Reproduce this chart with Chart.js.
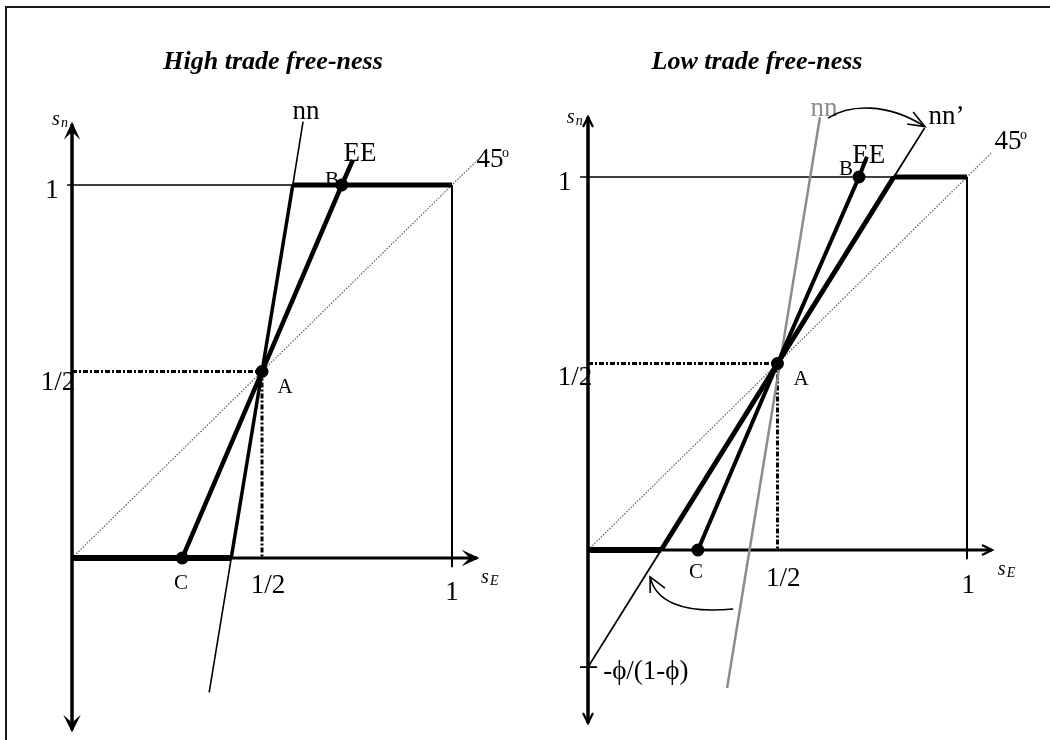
<!DOCTYPE html>
<html>
<head>
<meta charset="utf-8">
<script src="https://cdn.jsdelivr.net/npm/chart.js@4.4.1/dist/chart.umd.min.js"></script>
<style>
  html, body { margin: 0; padding: 0; background: #fff; }
  #page { position: relative; width: 1050px; height: 740px; overflow: hidden; }
  #frame { position: absolute; left: 5px; top: 6px; width: 1100px; height: 800px;
           border-top: 2px solid #1a1a1a; border-left: 2px solid #1a1a1a; }
  canvas { position: absolute; top: 0; }
  #high { left: 0; }
  #low { left: 525px; }
</style>
</head>
<body>
<div id="page">
  <div id="frame"></div>
  <canvas id="high" width="525" height="740"></canvas>
  <canvas id="low" width="525" height="740"></canvas>
</div>
<script>
// --- high trade free-ness ---
const nnHighX = [0.361, 0.419, 0.581, 0.608];
const nnHighY = [-0.36, 0, 1, 1.17];
const eeHighX = [0.29, 0.5, 0.71, 0.739];
const eeHighY = [0, 0.5, 1, 1.067];
const eqHighX = [0.5, 0.71, 0.29];   // A, B, C
const eqHighY = [0.5, 1, 0];

// --- low trade free-ness ---
const nnOldX = [0.367, 0.612];
const nnOldY = [-0.37, 1.16];
const nnNewX = [0, 0.193, 0.807, 0.888];
const nnNewY = [-0.314, 0, 1, 1.131];
const eeLowX = [0.29, 0.5, 0.715, 0.736];
const eeLowY = [0, 0.5, 1, 1.054];
const eqLowX = [0.5, 0.715, 0.29];
const eqLowY = [0.5, 1, 0];
const phiIntercept = -0.314;

const tickLabels = ['1/2', '1'];
const SERIF = '"Liberation Serif", "Times New Roman", serif';

function line(xs, ys, color, width, dash) {
  return {
    data: xs.map((x, i) => ({x: x, y: ys[i]})),
    showLine: true, pointRadius: 0, fill: false,
    borderColor: color, borderWidth: width, borderDash: dash || [],
    borderCapStyle: 'butt'
  };
}

function dots(xs, ys) {
  return {
    data: xs.map((x, i) => ({x: x, y: ys[i]})),
    showLine: false, pointRadius: 6.5, borderWidth: 0,
    pointBackgroundColor: '#000'
  };
}

// unit box, axes, 45 degree line and the dashed guides at A
function frameSets(axisTop, axisBottom, axisRight, tickLeft, diagEnd) {
  return [
    line([0, 0], [axisTop, axisBottom], '#000', 3.5),
    line([0, axisRight], [0, 0], '#000', 3),
    line([tickLeft, 1], [1, 1], '#000', 1.5),
    line([1, 1], [1, -0.025], '#000', 2),
    line([0, diagEnd], [0, diagEnd], '#6a6a6a', 1.3, [1.5, 1.5]),
    line([0, 0.5], [0.5, 0.5], '#000', 3, [5, 2, 2, 2]),
    line([0.5, 0.5], [0.5, 0], '#000', 3, [5, 2, 2, 2])
  ];
}

function arrowHead(ctx, tx, ty, dx, dy, filled, len, half) {
  const nx = -dy, ny = dx;
  const bx = tx - dx * len, by = ty - dy * len;
  ctx.beginPath();
  ctx.moveTo(bx + nx * half, by + ny * half);
  ctx.lineTo(tx, ty);
  ctx.lineTo(bx - nx * half, by - ny * half);
  if (filled) {
    ctx.lineTo(tx - dx * len * 0.55, ty - dy * len * 0.55);
    ctx.closePath();
    ctx.fill();
  }
  ctx.stroke();
}

const panelText = {
  id: 'panelText',
  beforeDatasetsDraw(chart, args, opts) {
    const {ctx, scales} = chart;
    const sx = scales.x, sy = scales.y;
    ctx.save();
    ctx.textBaseline = 'middle';
    for (const l of opts.items) {
      const px = sx.getPixelForValue(l.x), py = sy.getPixelForValue(l.y);
      ctx.font = l.font;
      ctx.fillStyle = l.color || '#000';
      ctx.textAlign = l.align || 'center';
      ctx.fillText(l.text, px + (l.ox || 0), py + (l.oy || 0));
    }
    ctx.restore();
  },
  afterDatasetsDraw(chart, args, opts) {
    const {ctx, scales} = chart;
    const sx = scales.x, sy = scales.y;
    const P = (p) => [sx.getPixelForValue(p[0]), sy.getPixelForValue(p[1])];
    ctx.save();
    ctx.strokeStyle = '#000';
    ctx.fillStyle = '#000';
    ctx.lineJoin = 'miter';
    for (const a of opts.arrows) {
      const [tx, ty] = P([a.x, a.y]);
      ctx.lineWidth = a.width;
      arrowHead(ctx, tx, ty, a.dx, a.dy, a.filled, a.len, a.half);
    }
    for (const c of (opts.curves || [])) {
      const p = c.pts.map(P);
      ctx.lineWidth = 1.6;
      ctx.beginPath();
      ctx.moveTo(p[0][0], p[0][1]);
      ctx.bezierCurveTo(p[1][0], p[1][1], p[2][0], p[2][1], p[3][0], p[3][1]);
      ctx.stroke();
      const w = c.wings.map(P);
      ctx.beginPath();
      ctx.moveTo(w[0][0], w[0][1]);
      ctx.lineTo(p[3][0], p[3][1]);
      ctx.lineTo(w[1][0], w[1][1]);
      ctx.stroke();
    }
    ctx.restore();
  }
};

function makeChart(id, datasets, xr, yr, items, arrows, curves) {
  return new Chart(document.getElementById(id), {
    type: 'scatter',
    data: {datasets: datasets},
    options: {
      responsive: false,
      animation: false,
      events: [],
      layout: {padding: 0, autoPadding: false},
      scales: {
        x: {type: 'linear', min: xr[0], max: xr[1], display: false},
        y: {type: 'linear', min: yr[0], max: yr[1], display: false}
      },
      plugins: {
        legend: {display: false},
        tooltip: {enabled: false},
        panelText: {items: items, arrows: arrows, curves: curves}
      }
    },
    plugins: [panelText]
  });
}

const big = '27px ' + SERIF;
const mid = '21px ' + SERIF;
const title = 'bold italic 26px ' + SERIF;
const ital = 'italic 20px ' + SERIF;
const italSmall = 'italic 14px ' + SERIF;
const degFont = '14px ' + SERIF;

// axis names s_E and s_n, placed as a letter plus an offset index
function axisName(x, y, idx) {
  return [
    {text: 's', x: x, y: y, font: ital, align: 'left', ox: -9},
    {text: idx, x: x, y: y, font: italSmall, align: 'left', ox: 0, oy: 3}
  ];
}

// left panel
makeChart('high',
  [
    dots(eqHighX, eqHighY),
    line(eeHighX, eeHighY, '#000', 4.5),
    line(nnHighX.slice(1, 3), nnHighY.slice(1, 3), '#000', 3.5),
    line([0, nnHighX[1]], [0, 0], '#000', 6),
    line([nnHighX[2], 1], [1, 1], '#000', 5),
    line(nnHighX, nnHighY, '#000', 1.6),
    ...frameSets(1.163, -0.461, 1.066, -0.013, 1.07)
  ],
  [-0.1895, 1.1921], [-0.4879, 1.496],
  [
    {text: 'High trade free-ness', x: 0.529, y: 1.330, font: title},
    {text: 'nn', x: 0.616, y: 1.196, font: big},
    {text: 'EE', x: 0.758, y: 1.083, font: big},
    {text: 'B', x: 0.684, y: 1.013, font: mid},
    {text: '45', x: 1.100, y: 1.067, font: big},
    {text: 'o', x: 1.100, y: 1.067, font: degFont, align: 'left', ox: 12, oy: -7},
    {text: tickLabels[1], x: -0.0526, y: 0.984, font: big},
    {text: tickLabels[0], x: -0.037, y: 0.469, font: big},
    {text: 'A', x: 0.561, y: 0.458, font: mid},
    {text: 'C', x: 0.287, y: -0.067, font: mid},
    {text: tickLabels[0], x: 0.516, y: -0.075, font: big},
    {text: tickLabels[1], x: 1.0, y: -0.094, font: big},
    ...axisName(1.1, -0.054, 'E'),
    ...axisName(-0.029, 1.174, 'n')
  ],
  [
    {x: 0, y: 1.163, dx: 0, dy: -1, filled: true, width: 2, len: 11, half: 5},
    {x: 0, y: -0.461, dx: 0, dy: 1, filled: true, width: 2, len: 11, half: 5.5},
    {x: 1.066, y: 0, dx: 1, dy: 0, filled: true, width: 2, len: 11, half: 5}
  ],
  []
);

// right panel: nn swings to nn' when trade gets less free
makeChart('low',
  [
    dots(eqLowX, eqLowY),
    line(eeLowX, eeLowY, '#000', 4),
    line(nnNewX.slice(1, 3), nnNewY.slice(1, 3), '#000', 5),
    line([0, nnNewX[1]], [0, 0], '#000', 6),
    line([nnNewX[2], 1], [1, 1], '#000', 5),
    line(nnNewX, nnNewY, '#000', 1.8),
    line(nnOldX, nnOldY, '#8c8c8c', 2.5),
    line([-0.021, 0.024], [phiIntercept, phiIntercept], '#000', 1.8),
    ...frameSets(1.161, -0.464, 1.066, -0.021, 1.065)
  ],
  [-0.1662, 1.2190], [-0.5094, 1.4745],
  [
    {text: 'Low trade free-ness', x: 0.446, y: 1.308, font: title},
    {text: 'nn', x: 0.623, y: 1.182, font: big, color: '#8c8c8c'},
    {text: 'nn\u2019', x: 0.946, y: 1.161, font: big},
    {text: 'EE', x: 0.741, y: 1.056, font: big},
    {text: 'B', x: 0.681, y: 1.019, font: mid},
    {text: '45', x: 1.108, y: 1.094, font: big},
    {text: 'o', x: 1.108, y: 1.094, font: degFont, align: 'left', ox: 12, oy: -7},
    {text: tickLabels[1], x: -0.061, y: 0.984, font: big},
    {text: tickLabels[0], x: -0.034, y: 0.461, font: big},
    {text: 'A', x: 0.562, y: 0.458, font: mid},
    {text: 'C', x: 0.285, y: -0.059, font: mid},
    {text: tickLabels[0], x: 0.515, y: -0.078, font: big},
    {text: tickLabels[1], x: 1.003, y: -0.097, font: big},
    ...axisName(1.105, -0.054, 'E'),
    ...axisName(-0.032, 1.158, 'n'),
    {text: '-\u03d5/(1-\u03d5)', x: 0.040, y: phiIntercept - 0.013, font: big, align: 'left'}
  ],
  [
    {x: 0, y: 1.161, dx: 0, dy: -1, filled: false, width: 2.2, len: 10, half: 5},
    {x: 0, y: -0.464, dx: 0, dy: 1, filled: false, width: 2.2, len: 10, half: 5},
    {x: 1.066, y: 0, dx: 1, dy: 0, filled: false, width: 2.2, len: 10, half: 5}
  ],
  [
    {pts: [[0.633, 1.158], [0.69, 1.195], [0.79, 1.2], [0.889, 1.135]],
     wings: [[0.858, 1.174], [0.842, 1.142]]},
    {pts: [[0.383, -0.158], [0.243, -0.172], [0.177, -0.134], [0.164, -0.072]],
     wings: [[0.164, -0.115], [0.203, -0.102]]}
  ]
);
</script>
</body>
</html>
